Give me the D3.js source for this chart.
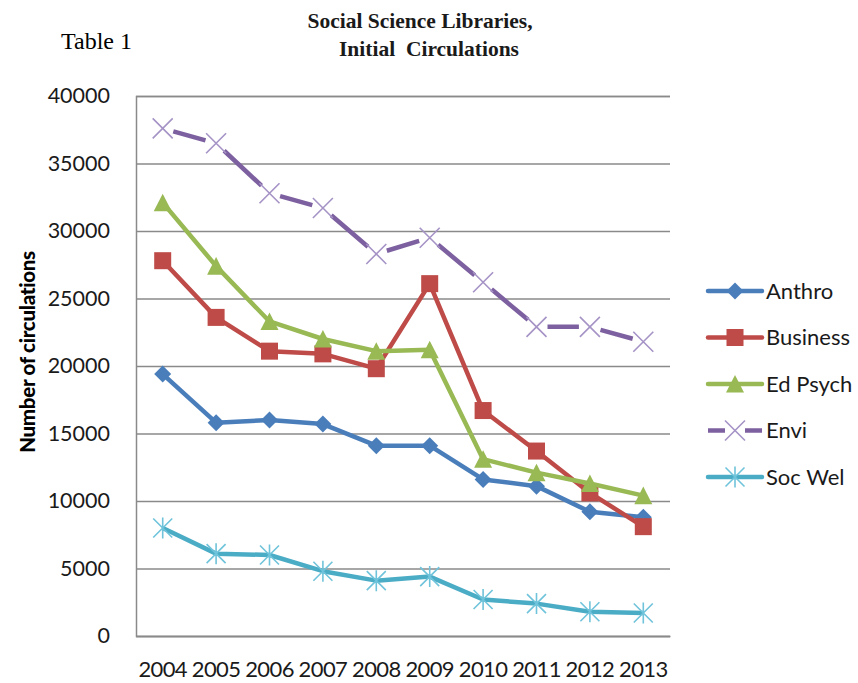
<!DOCTYPE html>
<html>
<head>
<meta charset="utf-8">
<script src="https://cdn.jsdelivr.net/npm/d3@7"></script>
<style>
  body { margin: 0; background: #fff; }
  svg { display: block; }
</style>
</head>
<body>
<svg id="chart" width="858" height="683"></svg>
<script>
// Initial circulations per year for each social science library
const years = ["2004", "2005", "2006", "2007", "2008", "2009", "2010", "2011", "2012", "2013"];
const anthro   = [19400, 15800, 16000, 15700, 14100, 14100, 11600, 11100, 9200, 8800];
const business = [27800, 23600, 21100, 20900, 19800, 26100, 16700, 13700, 10600, 8100];
const edPsych  = [32100, 27400, 23300, 22000, 21100, 21200, 13100, 12100, 11300, 10400];
const envi     = [37600, 36500, 32800, 31700, 28300, 29500, 26200, 22900, 22900, 21800];
const socWel   = [8000, 6100, 6000, 4800, 4100, 4400, 2700, 2400, 1800, 1700];
const seriesNames = ["Anthro", "Business", "Ed Psych", "Envi", "Soc Wel"];
const yTicks = [0, 5000, 10000, 15000, 20000, 25000, 30000, 35000, 40000];

const series = [
  { name: seriesNames[0], values: anthro,   color: "#4A7EBB", marker: "diamond" },
  { name: seriesNames[1], values: business, color: "#BE4B48", marker: "square" },
  { name: seriesNames[2], values: edPsych,  color: "#98B954", marker: "triangle" },
  { name: seriesNames[3], values: envi,     color: "#7D60A0", marker: "x", markColor: "#A593C6", dashed: true },
  { name: seriesNames[4], values: socWel,   color: "#4BACC6", marker: "star", markColor: "#6FC3DA" }
];

const svg = d3.select("#chart");
const plot = { left: 136, right: 670, top: 96, bottom: 636 };

const x = d3.scaleBand().domain(years).range([plot.left, plot.right]);
const y = d3.scaleLinear().domain([0, 40000]).range([plot.bottom, plot.top]);
const cx = d => x(d) + x.bandwidth() / 2;

// Titles
svg.append("text")
  .attr("x", 61).attr("y", 49)
  .attr("font-family", "'Liberation Serif', 'Times New Roman', serif")
  .attr("font-size", 24)
  .attr("fill", "#000")
  .text("Table 1");

const title = svg.append("text")
  .attr("font-family", "'Liberation Serif', 'Times New Roman', serif")
  .attr("font-size", 21.5)
  .attr("font-weight", "bold")
  .attr("fill", "#1a1a1a")
  .attr("text-anchor", "middle");
title.append("tspan").attr("x", 420).attr("y", 28).text("Social Science Libraries,");
title.append("tspan").attr("x", 429).attr("y", 56).attr("xml:space", "preserve").text("Initial  Circulations");

// Y axis with gridlines
const yAxis = svg.append("g")
  .attr("transform", `translate(${plot.left},0)`)
  .call(d3.axisLeft(y).tickValues(yTicks).tickSize(-(plot.right - plot.left)).tickPadding(26).tickFormat(d3.format("d")));
yAxis.select(".domain").attr("stroke", "#8a8a8a").attr("stroke-width", 1.5);
yAxis.selectAll(".tick line").attr("stroke", "#8a8a8a").attr("stroke-width", 1.5);
yAxis.selectAll(".tick text")
  .attr("font-family", "Lato, 'Open Sans', sans-serif")
  .attr("font-size", 21.5)
  .attr("fill", "#1a1a1a");

// X axis
const xAxis = svg.append("g")
  .attr("transform", `translate(0,${plot.bottom})`)
  .call(d3.axisBottom(x).tickSize(0).tickPadding(25));
xAxis.select(".domain").attr("stroke", "#8a8a8a").attr("stroke-width", 1.5);
xAxis.selectAll(".tick text")
  .attr("font-family", "Lato, 'Open Sans', sans-serif")
  .attr("font-size", 22)
  .attr("letter-spacing", -0.6)
  .attr("fill", "#1a1a1a");

// Y axis title
svg.append("text")
  .attr("transform", "translate(35,352) rotate(-90)")
  .attr("text-anchor", "middle")
  .attr("font-family", "Lato, 'Open Sans', sans-serif")
  .attr("font-size", 20.5)
  .attr("font-weight", "900")
  .attr("letter-spacing", -0.3)
  .attr("fill", "#000")
  .text("Number of circulations");

// Marker shapes
function drawMarker(g, s, px, py) {
  const mc = s.markColor || s.color;
  if (s.marker === "diamond") {
    const r = 8.5;
    g.append("path").attr("d", `M${px},${py - r}L${px + r},${py}L${px},${py + r}L${px - r},${py}Z`).attr("fill", s.color);
  } else if (s.marker === "square") {
    const h = 8.5;
    g.append("rect").attr("x", px - h).attr("y", py - h).attr("width", 2 * h).attr("height", 2 * h).attr("fill", s.color);
  } else if (s.marker === "triangle") {
    const h = 9;
    g.append("path").attr("d", `M${px},${py - h}L${px + h},${py + h * 0.95}L${px - h},${py + h * 0.95}Z`).attr("fill", s.color);
  } else if (s.marker === "x") {
    const h = 10;
    g.append("path").attr("d", `M${px - h},${py - h}L${px + h},${py + h}M${px - h},${py + h}L${px + h},${py - h}`)
      .attr("stroke", mc).attr("stroke-width", 1.6).attr("fill", "none");
  } else if (s.marker === "star") {
    const h = 9.5;
    g.append("path").attr("d", `M${px - h},${py - h}L${px + h},${py + h}M${px - h},${py + h}L${px + h},${py - h}M${px},${py - h - 1}L${px},${py + h + 1}`)
      .attr("stroke", mc).attr("stroke-width", 1.6).attr("fill", "none");
  }
}

// Series lines and markers
const line = d3.line().x((d, i) => cx(years[i])).y(d => y(d));
series.forEach(s => {
  const g = svg.append("g");
  if (s.dashed) {
    // each segment carries one dash, leaving room around the markers
    for (let i = 0; i < s.values.length - 1; i++) {
      const x0 = cx(years[i]), y0 = y(s.values[i]);
      const x1 = cx(years[i + 1]), y1 = y(s.values[i + 1]);
      const L = Math.hypot(x1 - x0, y1 - y0);
      const gap = 11;
      g.append("line")
        .attr("x1", x0).attr("y1", y0).attr("x2", x1).attr("y2", y1)
        .attr("stroke", s.color).attr("stroke-width", 4.5)
        .attr("stroke-dasharray", `0,${gap},${L - 2 * gap},${gap + 2}`);
    }
  } else {
    g.append("path").datum(s.values)
      .attr("d", line)
      .attr("fill", "none")
      .attr("stroke", s.color)
      .attr("stroke-width", 4.5)
      .attr("stroke-linejoin", "round");
  }
  s.values.forEach((v, i) => drawMarker(g, s, cx(years[i]), y(v)));
});

// Legend
const legend = svg.append("g");
series.forEach((s, i) => {
  const ly = 291 + i * 46.5;
  const g = legend.append("g");
  if (s.dashed) {
    g.append("line").attr("x1", 708).attr("x2", 725).attr("y1", ly).attr("y2", ly).attr("stroke", s.color).attr("stroke-width", 4.5);
    g.append("line").attr("x1", 745).attr("x2", 762).attr("y1", ly).attr("y2", ly).attr("stroke", s.color).attr("stroke-width", 4.5);
  } else {
    g.append("line").attr("x1", 708).attr("x2", 762).attr("y1", ly).attr("y2", ly).attr("stroke", s.color).attr("stroke-width", 4.5).attr("stroke-linecap", "round");
  }
  drawMarker(g, s, 735, ly);
  g.append("text")
    .attr("x", 766).attr("y", ly)
    .attr("dy", "0.35em")
    .attr("font-family", "Lato, 'Open Sans', sans-serif")
    .attr("font-size", 22)
    .attr("fill", "#1a1a1a")
    .text(s.name);
});
</script>
</body>
</html>
